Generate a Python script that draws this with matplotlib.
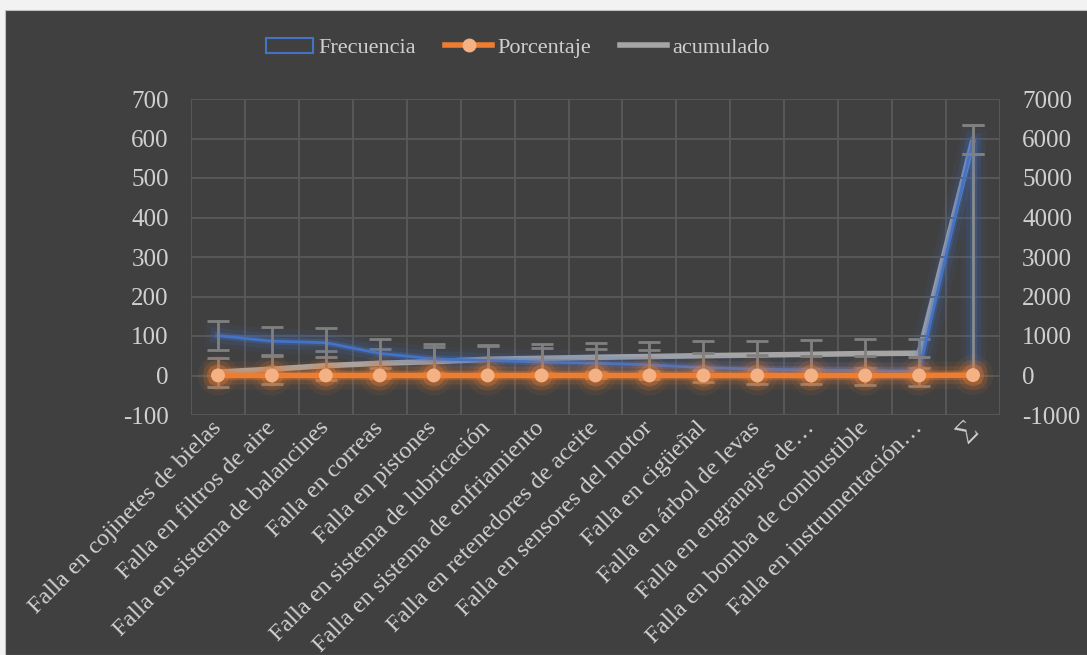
import matplotlib.pyplot as plt
import matplotlib.patheffects as pe
from matplotlib.lines import Line2D
from matplotlib.patches import Patch, Rectangle

# Fallas del motor (orden de Pareto) y fila de totales
categorias = ['Falla en cojinetes de bielas', 'Falla en filtros de aire',
              'Falla en sistema de balancines', 'Falla en correas',
              'Falla en pistones', 'Falla en sistema de lubricación',
              'Falla en sistema de enfriamiento', 'Falla en retenedores de aceite',
              'Falla en sensores del motor', 'Falla en cigüeñal',
              'Falla en árbol de levas', 'Falla en engranajes de…',
              'Falla en bomba de combustible', 'Falla en instrumentación…', '∑']
frecuencia = [101, 87, 83, 56, 42, 38, 34, 31, 27, 20, 16, 14, 13, 11, 597]
porcentaje = [0.17, 0.15, 0.14, 0.09, 0.07, 0.06, 0.06, 0.05, 0.05, 0.03,
              0.03, 0.02, 0.02, 0.02, 1.0]
acumulado = [85, 160, 248, 309, 350, 410, 435, 460, 480, 501, 519, 536, 555, 565, 5970]
err_frec = 36.5
err_acum = 365

BG = '#404040'
TXT = '#d0d0d0'
GRID = '#5a5a5a'
AZUL = '#4472C4'
NARANJA = '#ED7D31'
GRIS = '#A5A5A5'
ERR = '#808080'

plt.rcParams['font.family'] = ['Liberation Serif', 'DejaVu Serif']
plt.rcParams['font.size'] = 16
plt.rcParams['axes.unicode_minus'] = False

fig = plt.figure(figsize=(10.87, 6.55), dpi=100, facecolor='#f2f2f2')
fig.patches.append(Rectangle((5 / 1087, 0), 1, 1 - 10 / 655, transform=fig.transFigure,
                             facecolor=BG, edgecolor='#bfbfbf', lw=0.8, zorder=-5))

ax2 = fig.add_axes([191 / 1087, 1 - 415 / 655, 809 / 1087, 316 / 655])
ax = ax2.twinx()
ax.yaxis.tick_left()
ax2.yaxis.tick_right()
ax.set_zorder(ax2.get_zorder() + 1)
ax.patch.set_visible(False)
ax2.patch.set_visible(False)

x = list(range(len(categorias)))


def glow(color, lw):
    return [pe.Stroke(linewidth=lw + 16, foreground=color, alpha=0.07),
            pe.Stroke(linewidth=lw + 9, foreground=color, alpha=0.14),
            pe.Stroke(linewidth=lw + 3, foreground=color, alpha=0.3),
            pe.Normal()]


# eje secundario: acumulado
ax2.set_ylim(-1000, 7000)
ax2.set_yticks(range(-1000, 7001, 1000))
ax2.plot(x, acumulado, color=GRIS, lw=4, solid_capstyle='round', zorder=3)
ax2.errorbar(x, acumulado, yerr=err_acum, fmt='none', ecolor=ERR, elinewidth=2,
             capsize=8, capthick=2, zorder=4)

# eje principal: frecuencia y porcentaje
ax.set_ylim(-100, 700)
ax.set_yticks(range(-100, 701, 100))
ax2.set_xlim(-0.5, len(categorias) - 0.5)
ax.vlines(x[-1], 0, frecuencia[-1], color='#8c8c8c', lw=2,
          path_effects=glow(AZUL, 2), zorder=2)
ax.plot(x, frecuencia, color=AZUL, lw=2, path_effects=glow(AZUL, 2), zorder=2)
ax.errorbar(x, frecuencia, yerr=err_frec, fmt='none', ecolor=ERR, elinewidth=2,
            capsize=8, capthick=2, zorder=4)
ax.plot(x, porcentaje, color=NARANJA, lw=4, marker='o', markersize=9,
        markerfacecolor='#F4B183', markeredgecolor='#F4B183',
        path_effects=glow(NARANJA, 4), zorder=5)

# rejilla de categorías y valores
ax2.set_xticks(x)
ax2.set_xticks([i - 0.5 for i in range(len(categorias) + 1)], minor=True)
ax2.grid(True, which='minor', axis='x', color=GRID, lw=1.3)
ax.grid(True, which='major', axis='y', color=GRID, lw=1.3)
ax2.set_xticklabels(categorias, rotation=45, ha='right', va='center',
                    rotation_mode='anchor', color=TXT, fontsize=17.5)
ax2.tick_params(axis='x', which='both', length=0, pad=7)
ax.tick_params(axis='y', length=0, pad=16, colors=TXT, labelsize=18)
ax2.tick_params(axis='y', length=0, pad=16, colors=TXT, labelsize=18)
ax.set_axisbelow(True)
ax2.set_axisbelow(True)
for a in (ax, ax2):
    for s in a.spines.values():
        s.set_visible(False)

handles = [Patch(facecolor='none', edgecolor=AZUL, lw=1.5),
           Line2D([], [], color=NARANJA, lw=4, marker='o', markersize=9,
                  markerfacecolor='#F4B183', markeredgecolor='#F4B183'),
           Line2D([], [], color=GRIS, lw=4)]
fig.legend(handles, ['Frecuencia', 'Porcentaje', 'acumulado'], loc='center',
           bbox_to_anchor=(0.4766, 0.927), ncol=3, frameon=False, labelcolor=TXT,
           handlelength=2.1, handletextpad=0.25, columnspacing=1.3, fontsize=16)

fig.savefig('out.png', dpi=100, facecolor=fig.get_facecolor())
